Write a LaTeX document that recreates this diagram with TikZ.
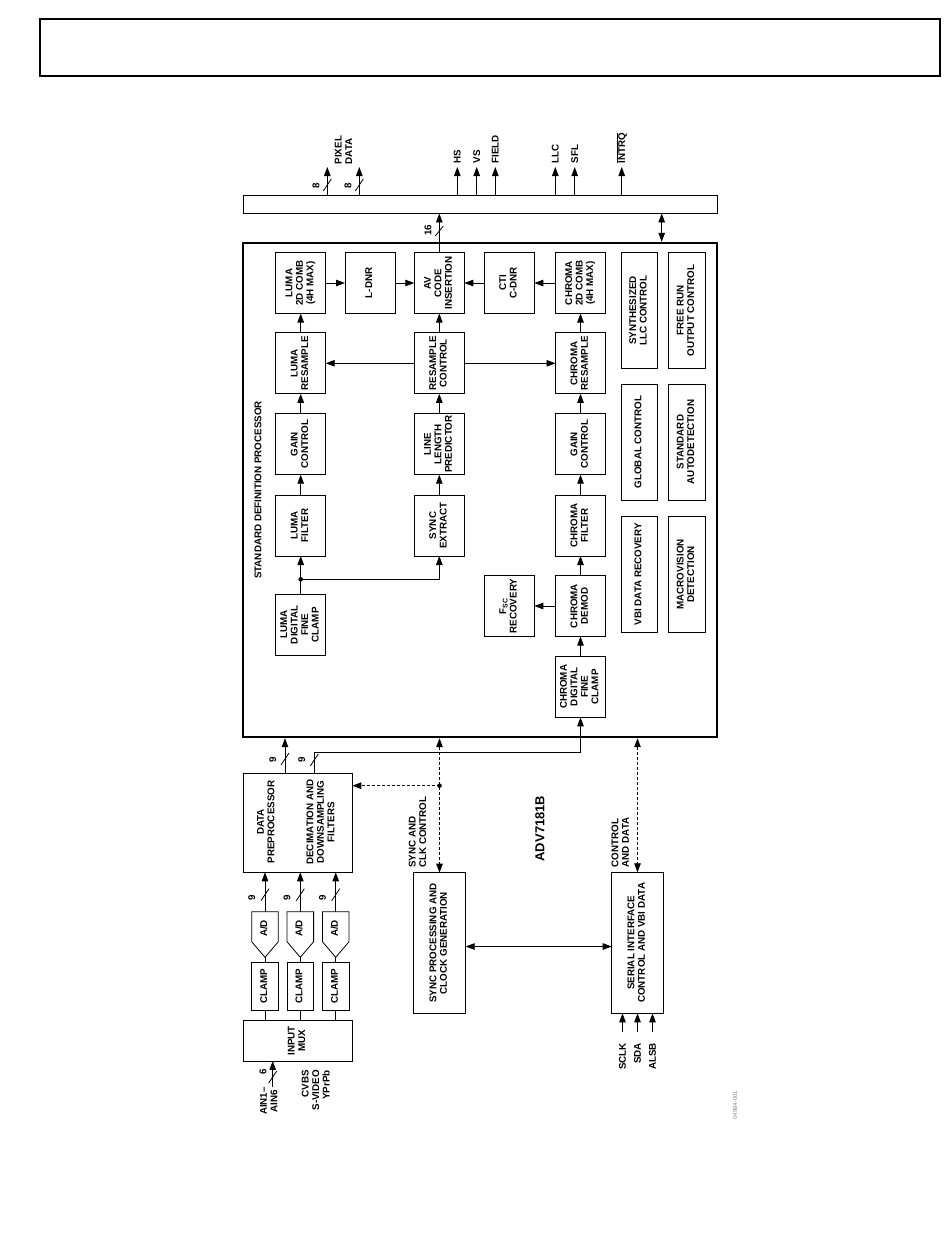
\documentclass[tikz,border=0pt]{standalone}
\usepackage{fontspec}
\setmainfont{Liberation Sans}
\usetikzlibrary{arrows.meta,calc}
\newcommand{\lab}{\fontsize{9.8}{10.5}\selectfont\bfseries}
\newcommand{\rt}[1]{\rotatebox{90}{\begin{tabular}{@{}c@{}}#1\end{tabular}}}
\begin{document}
\begin{tikzpicture}[x=1pt,y=-1pt,
  wire/.style={line width=0.8pt},
  arr/.style={wire,-{Triangle[length=9pt,width=6.5pt]}},
  barr/.style={wire,{Triangle[length=9pt,width=6.5pt]}-{Triangle[length=9pt,width=6.5pt]}},
  dsh/.style={dash pattern=on 3pt off 2pt},
  blk/.style={draw,line width=0.8pt,inner sep=0pt,outer sep=0pt,font=\lab,minimum width=50pt,minimum height=61pt},
  tall/.style={blk,minimum width=36.7pt,minimum height=116pt},
  ghost/.style={inner sep=0pt,outer sep=0pt},
  lbl/.style={inner sep=0pt,font=\lab},
  rlbl/.style={lbl,rotate=90},
  bus/.style={line width=0.8pt}
]
\useasboundingbox (0,0) rectangle (950,1254);
% header frame
\draw[line width=1.2pt] (40,19) rectangle (940,76);

% output bar and processor
\node[draw,line width=0.8pt,minimum width=474pt,minimum height=18pt,inner sep=0pt] (bar) at (480,204) {};
\node[draw,line width=2.4pt,minimum width=474pt,minimum height=494pt,inner sep=0pt] (sdp) at (480,490) {};
\node[rlbl] (sdplbl) at (258,490) {STANDARD DEFINITION PROCESSOR};

% processor blocks
\node[blk] (lcomb) at (300.7,283) {\rt{LUMA\\2D COMB\\(4H MAX)}};
\node[blk] (ldnr) at (370,283) {\rt{L-DNR}};
\node[blk] (av) at (439.3,283) {\rt{AV\\CODE\\INSERTION}};
\node[blk] (cti) at (509.3,283) {\rt{CTI\\C-DNR}};
\node[blk] (ccomb) at (580.5,283) {\rt{CHROMA\\2D COMB\\(4H MAX)}};
\node[blk] (lres) at (300.7,363.3) {\rt{LUMA\\RESAMPLE}};
\node[blk] (rsc) at (439.3,363.3) {\rt{RESAMPLE\\CONTROL}};
\node[blk] (cres) at (580.5,363.3) {\rt{CHROMA\\RESAMPLE}};
\node[blk] (lgain) at (300.7,444.2) {\rt{GAIN\\CONTROL}};
\node[blk] (llp) at (439.3,444.2) {\rt{LINE\\LENGTH\\PREDICTOR}};
\node[blk] (cgain) at (580.5,444.2) {\rt{GAIN\\CONTROL}};
\node[blk] (lfilt) at (300.7,525.5) {\rt{LUMA\\FILTER}};
\node[blk] (sync) at (439.3,525.5) {\rt{SYNC\\EXTRACT}};
\node[blk] (cfilt) at (580.5,525.5) {\rt{CHROMA\\FILTER}};
\node[blk] (lclamp) at (300.7,624.8) {\rt{LUMA\\DIGITAL\\FINE\\CLAMP}};
\node[blk] (fsc) at (509.3,606) {\rt{F\textsubscript{SC}\\RECOVERY}};
\node[blk] (cdemod) at (580.5,606) {\rt{CHROMA\\DEMOD}};
\node[blk] (cclamp) at (580.5,686.8) {\rt{CHROMA\\DIGITAL\\FINE\\CLAMP}};

\node[tall] (synth) at (639.3,310.5) {\rt{SYNTHESIZED\\LLC CONTROL}};
\node[tall] (free) at (686.7,310.5) {\rt{FREE RUN\\OUTPUT CONTROL}};
\node[tall] (glob) at (639.3,442) {\rt{GLOBAL CONTROL}};
\node[tall] (stdad) at (686.7,442) {\rt{STANDARD\\AUTODETECTION}};
\node[tall] (vbi) at (639.3,574.3) {\rt{VBI DATA RECOVERY}};
\node[tall] (macro) at (686.7,574.3) {\rt{MACROVISION\\DETECTION}};

% processor connections
\draw[arr] (lcomb) -- (ldnr);
\draw[arr] (ldnr) -- (av);
\draw[arr] (cti) -- (av);
\draw[arr] (ccomb) -- (cti);
\draw[arr] (lres) -- (lcomb);
\draw[arr] (lgain) -- (lres);
\draw[arr] (lfilt) -- (lgain);
\draw[arr] (rsc) -- (av);
\draw[arr] (llp) -- (rsc);
\draw[arr] (sync) -- (llp);
\draw[arr] (rsc) -- (lres);
\draw[arr] (rsc) -- (cres);
\draw[arr] (cres) -- (ccomb);
\draw[arr] (cgain) -- (cres);
\draw[arr] (cfilt) -- (cgain);
\draw[arr] (cdemod) -- (cfilt);
\draw[arr] (cclamp) -- (cdemod);
\draw[arr] (cdemod) -- (fsc);
\coordinate (dot1) at ($(lclamp.north)+(0,-15)$);
\draw[wire] (lclamp.north) -- (dot1);
\draw[arr] (dot1) -- (lfilt.south);
\draw[arr] (dot1) -| (sync.south);
\fill (dot1) circle (2.3);

% AV code to bar
\draw[arr] (av.north) -- (av.north |- bar.south);
\draw[bus] (435.3,236) -- (443.3,226);
\node[rlbl] (l16) at (428,230) {16};
% bidirectional bar <-> processor
\coordinate (bd) at (661.7,0);
\draw[barr] (sdp.north -| bd) -- (bar.south -| bd);

% outputs from bar
\coordinate (pd1) at (327.3,167);
\coordinate (pd2) at (359.3,167);
\coordinate (hs) at (457.3,167);
\coordinate (vs) at (476.7,167);
\coordinate (fld) at (495.3,167);
\coordinate (llc) at (555.3,167);
\coordinate (sfl) at (574.7,167);
\coordinate (irq) at (621.7,167);
\foreach \c in {pd1,pd2,hs,vs,fld,llc,sfl,irq} {\draw[arr] (bar.north -| \c) -- (\c);}
\draw[bus] (323.3,191) -- (331.3,179);
\draw[bus] (355.3,191) -- (363.3,179);
\node[rlbl] (l8a) at (316,186) {8};
\node[rlbl] (l8b) at (348,186) {8};
\node[rlbl,anchor=west,align=left] (pdl) at (343.5,164.5) {PIXEL\\DATA};
\node[rlbl,anchor=west] (hsl) at (457.3,163.5) {HS};
\node[rlbl,anchor=west] (vsl) at (476.7,163.5) {VS};
\node[rlbl,anchor=west] (fldl) at (495.3,163.5) {FIELD};
\node[rlbl,anchor=west] (llcl) at (555.3,163.5) {LLC};
\node[rlbl,anchor=west] (sfll) at (574.7,163.5) {SFL};
\node[rlbl,anchor=west] (irql) at (621.7,163.5) {$\overline{\hbox{\lab INTRQ}}$};

% data preprocessor
\node[draw,line width=0.8pt,minimum width=109pt,minimum height=99pt,inner sep=0pt,outer sep=0pt] (dpp) at (297.8,822.8) {};
\node[lbl] (dppt1) at (267,822) {\rt{DATA\\PREPROCESSOR}};
\node[lbl] (dppt2) at (321.7,822) {\rt{DECIMATION AND\\DOWNSAMPLING\\FILTERS}};
\coordinate (o1) at (285,0);
\coordinate (o2) at (314.3,752.5);
\draw[arr] (dpp.north -| o1) -- (sdp.south -| o1);
\draw[arr] (dpp.north -| o2) -- (o2) -| (cclamp.south);
\draw[bus] (281,765) -- (289,753);
\draw[bus] (310.3,766) -- (318.3,754);
\node[rlbl] (l9a) at (272.7,760) {9};
\node[rlbl] (l9b) at (301.7,760) {9};

% A/D converters and clamps
\foreach \i/\x in {1/265,2/300.3,3/335.7} {
  \node[ghost,minimum width=26.6pt,minimum height=45.6pt] (ad\i) at (\x,934.5) {};
  \draw[wire] (ad\i.north west) -- (ad\i.north east) -- ($(ad\i.south east)+(0,-15.6)$) -- (ad\i.south) -- ($(ad\i.south west)+(0,-15.6)$) -- cycle;
  \node[lbl] (adt\i) at (\x,928.5) {\rt{A/D}};
  \node[blk,minimum width=26.6pt,minimum height=47.7pt] (clamp\i) at (\x,986.2) {\rt{CLAMP}};
  \draw[arr] (ad\i.north) -- (ad\i.north |- dpp.south);
  \draw[bus] ($(ad\i.north)+(-4,-11)$) -- ($(ad\i.north)+(4,-23)$);
  \node[rlbl] (l9ad\i) at ($(ad\i.north)+(-13.3,-14)$) {9};
  \draw[wire] (clamp\i.north) -- (ad\i.south);
}
\node[blk,minimum width=109pt,minimum height=40.3pt] (mux) at (297.8,1040.8) {\rt{INPUT\\MUX}};
\foreach \i in {1,2,3} {\draw[wire] (mux.north -| clamp\i) -- (clamp\i.south);}
\coordinate (ain) at (272.7,1087);
\draw[arr] (ain) -- (ain |- mux.south);
\draw[bus] (268.7,1083) -- (276.7,1071);
\node[rlbl] (l6) at (263,1071.5) {6};
\node[rlbl] (ainl) at (270,1101) {\begin{tabular}{@{}c@{}}AIN1–\\AIN6\end{tabular}};
\node[rlbl,anchor=east,align=right] (cvbs) at (315.8,1070) {CVBS\\S-VIDEO\\YPrPb};

% sync processing and serial interface
\node[blk,minimum width=52.4pt,minimum height=140.6pt] (sproc) at (439.5,943) {\rt{SYNC PROCESSING AND\\CLOCK GENERATION}};
\node[blk,minimum width=51.6pt,minimum height=141pt] (serial) at (637.5,942.8) {\rt{SERIAL INTERFACE\\CONTROL AND VBI DATA}};
\draw[barr] ($(sproc.east)+(0,3.5)$) -- ($(sproc.east -| serial.west)+(0,3.5)$);

\draw[barr,dsh] (sdp.south -| sproc.north) -- (sproc.north);
\coordinate (jd) at ($(sproc.north)+(0,-87)$);
\draw[arr,dsh] (jd) -- (jd -| dpp.east);
\fill (jd) circle (2.3);
\node[rlbl,anchor=west,align=left] (scl) at (417.5,868) {SYNC AND\\CLK CONTROL};

\draw[barr,dsh] (sdp.south -| serial.north) -- (serial.north);
\node[rlbl,anchor=west,align=left] (cdl) at (620.3,867.5) {CONTROL\\AND DATA};

\node[lbl,font=\fontsize{13}{14}\selectfont\bfseries,rotate=90] (chip) at (540,828.5) {ADV7181B};

\foreach \n/\dx/\t in {sc1/-15/SCLK,sc2/0/SDA,sc3/15/ALSB} {
  \coordinate (\n) at ($(serial.south)+(\dx,18.5)$);
  \draw[arr] (\n) -- (\n |- serial.south);
  \node[rlbl,anchor=east] (\n l) at ($(serial.south)+(\dx,29.5)$) {\t};
}

\node[inner sep=0pt,rotate=90,text=black!45,font=\fontsize{6}{7}\selectfont] (fig) at (735,1105) {04984-001};
\end{tikzpicture}
\end{document}
